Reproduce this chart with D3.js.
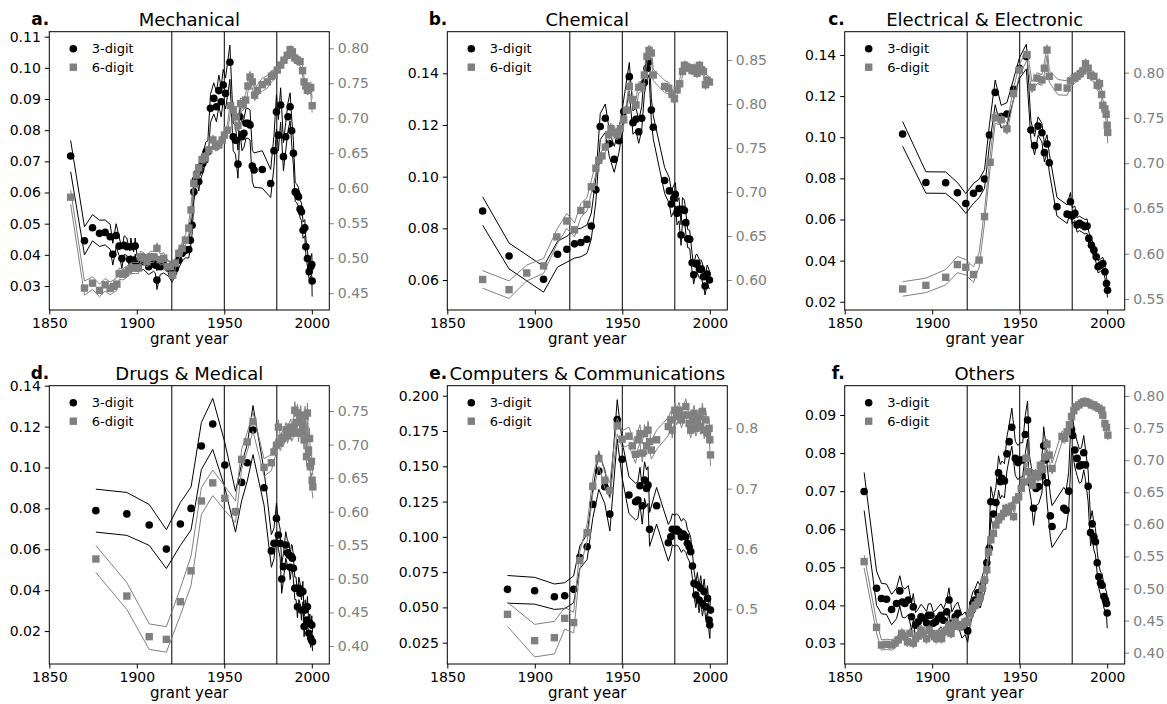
<!DOCTYPE html>
<html>
<head>
<meta charset="utf-8">
<script src="https://cdnjs.cloudflare.com/ajax/libs/d3/7.8.5/d3.min.js"></script>
<style>
  html, body { margin: 0; padding: 0; background: #fff; }
  svg { display: block; font-family: "DejaVu Sans", sans-serif; }
</style>
</head>
<body>
<svg id="fig" width="1167" height="704"></svg>
<script>
// ---- shared labels and ticks ----
const panelLetters = ["a.", "b.", "c.", "d.", "e.", "f."];
const panelTitles = ["Mechanical", "Chemical", "Electrical & Electronic",
                     "Drugs & Medical", "Computers & Communications", "Others"];
const seriesNames = ["3-digit", "6-digit"];
const yearTicks = [1850, 1900, 1950, 2000];
const eraYears = [1920, 1950, 1980];
const xLabel = "grant year";

// ---- per-panel tick values ----
const leftTicks = [
  [0.03, 0.04, 0.05, 0.06, 0.07, 0.08, 0.09, 0.10, 0.11],
  [0.06, 0.08, 0.10, 0.12, 0.14],
  [0.02, 0.04, 0.06, 0.08, 0.10, 0.12, 0.14],
  [0.02, 0.04, 0.06, 0.08, 0.10, 0.12, 0.14],
  [0.025, 0.050, 0.075, 0.100, 0.125, 0.150, 0.175, 0.200],
  [0.03, 0.04, 0.05, 0.06, 0.07, 0.08, 0.09]
];
const rightTicks = [
  [0.45, 0.50, 0.55, 0.60, 0.65, 0.70, 0.75, 0.80],
  [0.60, 0.65, 0.70, 0.75, 0.80, 0.85],
  [0.55, 0.60, 0.65, 0.70, 0.75, 0.80],
  [0.40, 0.45, 0.50, 0.55, 0.60, 0.65, 0.70, 0.75],
  [0.5, 0.6, 0.7, 0.8],
  [0.40, 0.45, 0.50, 0.55, 0.60, 0.65, 0.70, 0.75, 0.80]
];
const leftDecimals = [2, 2, 2, 2, 3, 2];
const rightDecimals = [2, 2, 2, 2, 1, 2];

// ---- series: [grant year, value, half-width of band] ----
const mech3 = [[1862.2,0.0717,0.0050],[1870.1,0.0445,0.0045],[1874.7,0.0487,0.0042],[1878.7,0.0469,0.0042],[1881.9,0.0472,0.0040],[1884.8,0.0458,0.0040],[1886.3,0.0402,0.0035],[1888.2,0.0462,0.0038],[1889.9,0.0428,0.0030],[1891.5,0.0388,0.0030],[1892.8,0.0431,0.0030],[1894.3,0.0426,0.0028],[1895.9,0.0385,0.0028],[1896.6,0.0426,0.0028],[1898.2,0.0383,0.0026],[1899.1,0.0428,0.0026],[1900.1,0.0372,0.0025],[1903.9,0.0378,0.0025],[1906.8,0.0362,0.0025],[1909.6,0.0372,0.0025],[1910.6,0.0367,0.0025],[1911.5,0.0319,0.0030],[1913.4,0.0362,0.0025],[1915.4,0.0367,0.0025],[1918.2,0.0356,0.0025],[1920.1,0.0340,0.0028],[1922.0,0.0356,0.0025],[1924.0,0.0383,0.0025],[1925.9,0.0405,0.0025],[1927.8,0.0415,0.0025],[1929.7,0.0417,0.0027],[1930.6,0.0447,0.0027],[1931.6,0.0495,0.0028],[1932.6,0.0602,0.0030],[1933.5,0.0640,0.0030],[1934.5,0.0661,0.0030],[1935.4,0.0635,0.0030],[1936.4,0.0672,0.0030],[1937.7,0.0693,0.0030],[1938.7,0.0715,0.0032],[1939.6,0.0731,0.0032],[1940.6,0.0731,0.0035],[1942.1,0.0870,0.0045],[1944.0,0.0902,0.0050],[1945.5,0.0875,0.0048],[1946.9,0.0927,0.0050],[1948.2,0.0891,0.0048],[1949.4,0.0945,0.0050],[1950.7,0.0918,0.0050],[1953.2,0.1018,0.0055],[1955.1,0.0779,0.0045],[1956.4,0.0768,0.0045],[1957.8,0.0691,0.0045],[1958.9,0.0843,0.0045],[1960.1,0.0779,0.0045],[1961.2,0.0790,0.0045],[1962.4,0.0822,0.0048],[1963.5,0.0822,0.0048],[1964.7,0.0817,0.0048],[1966.0,0.0685,0.0050],[1967.0,0.0672,0.0055],[1971.7,0.0674,0.0060],[1976.5,0.0629,0.0045],[1978.4,0.0734,0.0050],[1979.8,0.0859,0.0055],[1980.9,0.0784,0.0050],[1982.2,0.0881,0.0055],[1983.8,0.0715,0.0045],[1985.1,0.0779,0.0045],[1986.4,0.0843,0.0045],[1987.6,0.0875,0.0045],[1988.5,0.0798,0.0042],[1989.5,0.0726,0.0040],[1990.5,0.0602,0.0030],[1991.4,0.0597,0.0030],[1992.4,0.0586,0.0030],[1993.3,0.0547,0.0028],[1994.1,0.0538,0.0028],[1995.0,0.0479,0.0026],[1996.0,0.0487,0.0026],[1996.6,0.0426,0.0026],[1997.5,0.0388,0.0025],[1998.5,0.0346,0.0025],[1999.4,0.0362,0.0030],[2000.0,0.0369,0.0035],[2000.2,0.0316,0.0050]];
const mech6 = [[1862.2,0.5872,0.010],[1870.1,0.4573,0.010],[1874.7,0.4644,0.009],[1878.7,0.4540,0.009],[1881.9,0.4620,0.009],[1884.8,0.4570,0.009],[1886.7,0.4597,0.009],[1888.6,0.4630,0.009],[1889.9,0.4780,0.008],[1892.0,0.4770,0.008],[1893.4,0.4790,0.008],[1895.3,0.4830,0.008],[1897.2,0.4860,0.008],[1899.1,0.4860,0.008],[1901.0,0.4860,0.008],[1902.0,0.5020,0.008],[1903.9,0.5000,0.008],[1905.8,0.4950,0.008],[1907.7,0.5020,0.008],[1909.6,0.5020,0.008],[1911.5,0.5140,0.008],[1913.4,0.4980,0.008],[1915.4,0.5000,0.008],[1917.3,0.4880,0.008],[1919.2,0.4880,0.008],[1920.5,0.4760,0.008],[1922.0,0.4930,0.008],[1924.0,0.5070,0.008],[1925.9,0.5140,0.008],[1927.8,0.5260,0.008],[1929.7,0.5430,0.008],[1931.0,0.5690,0.008],[1932.6,0.6070,0.008],[1934.1,0.6190,0.007],[1935.4,0.6290,0.007],[1937.3,0.6410,0.007],[1939.2,0.6450,0.007],[1941.2,0.6550,0.007],[1943.5,0.6690,0.007],[1945.0,0.6600,0.007],[1946.9,0.6620,0.007],[1948.8,0.6690,0.007],[1950.1,0.6760,0.007],[1951.7,0.6830,0.007],[1953.6,0.7180,0.008],[1955.1,0.7120,0.008],[1956.4,0.7020,0.008],[1957.8,0.6900,0.008],[1959.3,0.7210,0.008],[1960.8,0.7190,0.008],[1962.2,0.7260,0.008],[1963.5,0.7460,0.008],[1964.7,0.7590,0.008],[1966.0,0.7520,0.008],[1967.3,0.7330,0.008],[1968.9,0.7400,0.008],[1971.7,0.7480,0.009],[1974.6,0.7520,0.009],[1976.9,0.7600,0.008],[1978.4,0.7620,0.007],[1980.3,0.7690,0.006],[1982.2,0.7760,0.006],[1984.1,0.7830,0.006],[1986.0,0.7900,0.006],[1987.6,0.7980,0.006],[1988.9,0.7950,0.006],[1990.3,0.7860,0.006],[1991.8,0.7830,0.006],[1993.3,0.7810,0.006],[1994.7,0.7680,0.006],[1995.6,0.7520,0.006],[1996.6,0.7460,0.006],[1997.5,0.7400,0.007],[1998.5,0.7430,0.007],[1999.4,0.7440,0.008],[2000.2,0.7180,0.010]];

const chem3 = [[1870.2,0.0867,0.0055],[1885.3,0.0693,0.0050],[1905.0,0.0603,0.0050],[1913.0,0.0700,0.0050],[1918.3,0.0719,0.0050],[1922.7,0.0740,0.0055],[1926.3,0.0745,0.0055],[1929.8,0.0758,0.0055],[1932.3,0.0809,0.0050],[1934.9,0.0949,0.0045],[1937.4,0.1194,0.0050],[1940.3,0.1226,0.0055],[1942.6,0.1127,0.0050],[1945.4,0.1067,0.0050],[1948.1,0.1139,0.0045],[1950.8,0.1252,0.0045],[1954.0,0.1387,0.0055],[1956.1,0.1209,0.0045],[1957.8,0.1222,0.0045],[1959.4,0.1174,0.0045],[1961.1,0.1226,0.0045],[1962.6,0.1364,0.0045],[1964.1,0.1419,0.0045],[1965.3,0.1445,0.0050],[1966.6,0.1258,0.0045],[1967.7,0.1191,0.0045],[1974.2,0.0985,0.0050],[1976.9,0.0945,0.0050],[1978.0,0.0894,0.0050],[1979.4,0.0916,0.0050],[1980.3,0.0932,0.0045],[1981.3,0.0858,0.0045],[1982.4,0.0874,0.0045],[1983.6,0.0774,0.0040],[1984.4,0.0874,0.0045],[1985.5,0.0869,0.0040],[1986.3,0.0822,0.0040],[1987.4,0.0760,0.0035],[1988.5,0.0758,0.0035],[1989.9,0.0667,0.0035],[1990.8,0.0620,0.0035],[1992.0,0.0662,0.0035],[1992.7,0.0665,0.0035],[1994.1,0.0642,0.0035],[1995.2,0.0642,0.0035],[1996.4,0.0613,0.0035],[1997.3,0.0577,0.0035],[1998.5,0.0623,0.0035],[1999.8,0.0600,0.0035]];
const chem6 = [[1870.2,0.6006,0.0100],[1885.3,0.5890,0.0100],[1895.4,0.6080,0.0090],[1905.0,0.6160,0.0085],[1912.6,0.6490,0.0085],[1918.3,0.6670,0.0085],[1922.7,0.6570,0.0080],[1926.3,0.6790,0.0080],[1929.8,0.6860,0.0075],[1932.3,0.7060,0.0070],[1934.9,0.7270,0.0065],[1936.5,0.7360,0.0060],[1938.4,0.7410,0.0060],[1940.3,0.7510,0.0060],[1942.2,0.7650,0.0060],[1943.5,0.7720,0.0060],[1945.4,0.7680,0.0060],[1947.0,0.7650,0.0060],[1948.9,0.7720,0.0060],[1950.8,0.7820,0.0060],[1952.3,0.7930,0.0060],[1954.0,0.8200,0.0060],[1955.9,0.8050,0.0060],[1957.8,0.7990,0.0060],[1959.4,0.8190,0.0060],[1961.1,0.8200,0.0060],[1962.6,0.8330,0.0060],[1964.1,0.8540,0.0060],[1965.3,0.8610,0.0060],[1966.6,0.8580,0.0060],[1967.7,0.8330,0.0065],[1974.2,0.8200,0.0070],[1976.5,0.8180,0.0065],[1978.4,0.8110,0.0060],[1979.8,0.8060,0.0060],[1981.3,0.8160,0.0055],[1982.8,0.8230,0.0050],[1984.4,0.8370,0.0050],[1985.5,0.8440,0.0050],[1987.0,0.8420,0.0050],[1988.5,0.8410,0.0050],[1989.9,0.8380,0.0050],[1991.2,0.8410,0.0050],[1992.7,0.8350,0.0050],[1994.1,0.8440,0.0050],[1995.2,0.8390,0.0050],[1996.4,0.8370,0.0050],[1997.5,0.8220,0.0055],[1998.5,0.8270,0.0055],[1999.8,0.8250,0.0060]];

const elec3 = [[1883.1,0.1016,0.0060],[1896.4,0.0780,0.0052],[1907.7,0.0779,0.0052],[1914.4,0.0730,0.0050],[1919.2,0.0678,0.0048],[1923.6,0.0727,0.0048],[1926.8,0.0751,0.0045],[1929.9,0.0797,0.0045],[1932.7,0.1011,0.0050],[1936.0,0.1218,0.0060],[1939.4,0.1100,0.0055],[1942.7,0.1113,0.0055],[1946.5,0.1233,0.0050],[1949.8,0.1335,0.0050],[1953.8,0.1392,0.0060],[1956.4,0.1035,0.0045],[1958.5,0.0959,0.0045],[1960.5,0.1054,0.0045],[1962.7,0.1022,0.0045],[1964.1,0.0925,0.0045],[1965.6,0.0967,0.0045],[1966.9,0.0876,0.0045],[1971.3,0.0662,0.0045],[1977.1,0.0626,0.0045],[1979.0,0.0686,0.0045],[1980.0,0.0617,0.0040],[1981.5,0.0630,0.0035],[1982.8,0.0573,0.0035],[1984.1,0.0581,0.0035],[1985.7,0.0573,0.0035],[1987.2,0.0565,0.0035],[1988.5,0.0568,0.0035],[1989.5,0.0508,0.0030],[1991.0,0.0475,0.0030],[1992.4,0.0451,0.0030],[1993.7,0.0419,0.0030],[1994.8,0.0370,0.0030],[1996.2,0.0378,0.0030],[1997.5,0.0386,0.0030],[1998.7,0.0346,0.0030],[1999.6,0.0289,0.0030],[2000.2,0.0256,0.0035]];
const elec6 = [[1883.1,0.5610,0.0080],[1896.4,0.5650,0.0080],[1907.7,0.5740,0.0085],[1914.4,0.5880,0.0090],[1919.2,0.5850,0.0085],[1923.6,0.5770,0.0085],[1926.8,0.5930,0.0080],[1929.9,0.6410,0.0070],[1933.1,0.7010,0.0065],[1936.0,0.7500,0.0060],[1939.4,0.7480,0.0060],[1942.7,0.7380,0.0060],[1946.5,0.7770,0.0060],[1949.8,0.8030,0.0060],[1954.2,0.8200,0.0060],[1957.0,0.7840,0.0060],[1959.9,0.7940,0.0060],[1962.7,0.7920,0.0060],[1964.1,0.8050,0.0060],[1965.6,0.8250,0.0060],[1966.9,0.7960,0.0065],[1971.9,0.7840,0.0085],[1977.1,0.7830,0.0080],[1979.0,0.7910,0.0060],[1981.5,0.7940,0.0055],[1982.8,0.7960,0.0055],[1984.7,0.7990,0.0055],[1986.1,0.8020,0.0055],[1987.6,0.8100,0.0055],[1989.1,0.8050,0.0055],[1990.5,0.7970,0.0055],[1992.4,0.7960,0.0055],[1994.3,0.7860,0.0055],[1995.6,0.7880,0.0055],[1996.8,0.7760,0.0060],[1997.5,0.7640,0.0060],[1998.7,0.7600,0.0065],[1999.4,0.7540,0.0070],[2000.0,0.7420,0.0080],[2000.3,0.7340,0.0120]];

const drug3 = [[1876.6,0.0789,0.0105],[1894.3,0.0773,0.0105],[1907.1,0.0719,0.0100],[1916.9,0.0601,0.0095],[1924.9,0.0724,0.0105],[1931.0,0.0800,0.0105],[1936.9,0.1105,0.0115],[1943.4,0.1213,0.0125],[1950.3,0.1012,0.0110],[1956.4,0.0784,0.0100],[1959.9,0.0927,0.0090],[1963.1,0.1023,0.0090],[1966.4,0.1183,0.0120],[1972.7,0.0901,0.0085],[1976.9,0.0592,0.0080],[1978.4,0.0629,0.0075],[1979.8,0.0751,0.0075],[1980.9,0.0670,0.0070],[1981.9,0.0629,0.0070],[1982.8,0.0455,0.0070],[1983.8,0.0515,0.0065],[1985.1,0.0621,0.0065],[1986.1,0.0583,0.0060],[1987.0,0.0572,0.0060],[1987.6,0.0512,0.0060],[1988.4,0.0564,0.0060],[1988.9,0.0556,0.0060],[1989.5,0.0507,0.0055],[1990.3,0.0409,0.0055],[1991.0,0.0409,0.0055],[1991.8,0.0319,0.0055],[1992.6,0.0409,0.0055],[1993.3,0.0385,0.0050],[1994.1,0.0303,0.0050],[1994.9,0.0393,0.0050],[1995.6,0.0222,0.0050],[1996.2,0.0303,0.0050],[1997.0,0.0254,0.0050],[1997.5,0.0319,0.0050],[1998.3,0.0189,0.0045],[1998.9,0.0238,0.0045],[1999.4,0.0165,0.0045],[2000.0,0.0230,0.0045],[2000.4,0.0148,0.0045]];
const drug6 = [[1876.6,0.5296,0.0200],[1894.3,0.4744,0.0200],[1907.1,0.4139,0.0190],[1916.9,0.4099,0.0190],[1924.9,0.4660,0.0200],[1931.0,0.5120,0.0220],[1936.9,0.6160,0.0200],[1943.4,0.6430,0.0190],[1950.3,0.6200,0.0180],[1956.4,0.6000,0.0160],[1959.9,0.6780,0.0150],[1963.1,0.7040,0.0140],[1966.4,0.7340,0.0140],[1972.7,0.6660,0.0130],[1976.9,0.6730,0.0120],[1978.4,0.6890,0.0120],[1979.8,0.6990,0.0110],[1980.9,0.7260,0.0110],[1981.9,0.7020,0.0110],[1983.2,0.7090,0.0110],[1984.1,0.7110,0.0110],[1985.3,0.7220,0.0110],[1986.1,0.7130,0.0110],[1987.0,0.7210,0.0110],[1988.0,0.7260,0.0120],[1988.5,0.7170,0.0120],[1989.5,0.7230,0.0120],[1990.3,0.7510,0.0130],[1991.0,0.7330,0.0130],[1991.8,0.7470,0.0130],[1992.4,0.7170,0.0130],[1993.1,0.7370,0.0130],[1993.7,0.7440,0.0140],[1994.3,0.7190,0.0140],[1994.9,0.7290,0.0140],[1995.6,0.7070,0.0140],[1996.2,0.7420,0.0150],[1997.0,0.6820,0.0150],[1997.5,0.7470,0.0150],[1998.1,0.6920,0.0150],[1998.7,0.7090,0.0160],[1999.2,0.6670,0.0160],[1999.8,0.6750,0.0170],[2000.2,0.6470,0.0170],[2000.6,0.6370,0.0170]];

const comp3 = [[1884.4,0.0628,0.0098],[1899.9,0.0618,0.0095],[1911.2,0.0576,0.0090],[1917.1,0.0583,0.0092],[1922.2,0.0628,0.0095],[1925.7,0.0854,0.0080],[1929.9,0.0930,0.0090],[1933.1,0.1230,0.0100],[1936.6,0.1466,0.0130],[1940.0,0.1355,0.0120],[1942.9,0.1161,0.0120],[1947.1,0.1832,0.0140],[1949.9,0.1549,0.0130],[1953.8,0.1296,0.0130],[1957.6,0.1249,0.0130],[1958.9,0.1260,0.0130],[1960.1,0.1362,0.0130],[1961.4,0.1220,0.0130],[1962.7,0.1402,0.0130],[1963.9,0.1343,0.0130],[1964.7,0.1367,0.0130],[1965.6,0.1053,0.0120],[1969.6,0.1220,0.0130],[1976.3,0.0958,0.0130],[1977.7,0.1000,0.0120],[1978.6,0.1053,0.0110],[1980.0,0.1043,0.0110],[1981.1,0.1053,0.0110],[1982.4,0.1036,0.0110],[1983.8,0.1000,0.0110],[1984.9,0.1020,0.0110],[1986.3,0.1000,0.0110],[1987.2,0.0954,0.0100],[1988.2,0.0930,0.0100],[1989.1,0.0895,0.0100],[1990.1,0.0793,0.0090],[1991.0,0.0670,0.0090],[1992.0,0.0588,0.0090],[1992.9,0.0658,0.0090],[1993.9,0.0552,0.0090],[1994.8,0.0635,0.0090],[1995.8,0.0528,0.0090],[1996.8,0.0611,0.0090],[1997.7,0.0505,0.0090],[1998.7,0.0564,0.0090],[1999.6,0.0410,0.0090],[2000.0,0.0375,0.0095],[2000.4,0.0481,0.0095]];
const comp6 = [[1884.4,0.4917,0.0200],[1899.9,0.4480,0.0270],[1911.2,0.4530,0.0270],[1917.1,0.4850,0.0180],[1922.2,0.4780,0.0170],[1925.7,0.5810,0.0150],[1929.9,0.6270,0.0140],[1933.1,0.7040,0.0130],[1936.6,0.7500,0.0130],[1940.0,0.7140,0.0130],[1942.9,0.6970,0.0130],[1947.1,0.8040,0.0130],[1949.9,0.7820,0.0140],[1953.8,0.7870,0.0150],[1955.7,0.7710,0.0150],[1957.6,0.7570,0.0150],[1958.9,0.7810,0.0150],[1960.1,0.7910,0.0150],[1961.4,0.7590,0.0150],[1962.7,0.7910,0.0150],[1963.9,0.7710,0.0150],[1964.7,0.7970,0.0150],[1965.6,0.7780,0.0150],[1966.6,0.7640,0.0150],[1969.6,0.7810,0.0160],[1976.3,0.8030,0.0150],[1977.7,0.8140,0.0140],[1978.6,0.7970,0.0130],[1980.0,0.8300,0.0130],[1981.1,0.8190,0.0130],[1982.4,0.8300,0.0130],[1983.8,0.8140,0.0130],[1984.9,0.8220,0.0130],[1986.3,0.8360,0.0130],[1987.2,0.8220,0.0130],[1988.2,0.8080,0.0130],[1989.1,0.7970,0.0130],[1990.1,0.8140,0.0130],[1991.0,0.8250,0.0130],[1992.0,0.8000,0.0130],[1992.9,0.8080,0.0130],[1993.9,0.8190,0.0130],[1994.8,0.8030,0.0130],[1995.8,0.8280,0.0140],[1996.8,0.7970,0.0140],[1997.7,0.8140,0.0140],[1998.7,0.7920,0.0150],[1999.6,0.8000,0.0150],[2000.0,0.7810,0.0150],[2000.4,0.7560,0.0180]];

const other3 = [[1861.1,0.0699,0.0050],[1868.2,0.0445,0.0045],[1871.0,0.0418,0.0040],[1873.9,0.0416,0.0040],[1876.8,0.0389,0.0040],[1879.6,0.0405,0.0040],[1881.5,0.0438,0.0040],[1882.9,0.0409,0.0040],[1884.4,0.0405,0.0038],[1886.3,0.0414,0.0038],[1888.2,0.0370,0.0035],[1889.2,0.0396,0.0035],[1890.5,0.0348,0.0033],[1892.0,0.0357,0.0033],[1893.6,0.0370,0.0033],[1894.9,0.0366,0.0030],[1896.8,0.0354,0.0030],[1897.8,0.0374,0.0030],[1899.3,0.0374,0.0030],[1900.6,0.0353,0.0030],[1902.0,0.0357,0.0030],[1903.5,0.0366,0.0030],[1905.0,0.0374,0.0030],[1906.4,0.0361,0.0030],[1908.3,0.0383,0.0030],[1909.6,0.0414,0.0032],[1911.2,0.0353,0.0030],[1913.1,0.0370,0.0030],[1914.6,0.0379,0.0030],[1917.0,0.0344,0.0030],[1918.8,0.0353,0.0030],[1920.3,0.0333,0.0030],[1921.7,0.0379,0.0030],[1923.2,0.0405,0.0030],[1924.5,0.0414,0.0030],[1926.1,0.0433,0.0030],[1927.4,0.0423,0.0030],[1928.7,0.0445,0.0032],[1929.9,0.0466,0.0032],[1931.2,0.0512,0.0035],[1932.6,0.0550,0.0035],[1933.5,0.0672,0.0040],[1935.0,0.0640,0.0040],[1936.4,0.0670,0.0040],[1937.9,0.0748,0.0045],[1938.9,0.0725,0.0045],[1939.8,0.0734,0.0045],[1941.3,0.0727,0.0045],[1942.7,0.0798,0.0045],[1944.0,0.0830,0.0045],[1945.5,0.0868,0.0050],[1947.5,0.0786,0.0045],[1949.0,0.0775,0.0045],[1950.3,0.0782,0.0045],[1951.7,0.0782,0.0045],[1953.2,0.0849,0.0050],[1954.5,0.0887,0.0050],[1955.5,0.0751,0.0045],[1956.6,0.0720,0.0045],[1957.9,0.0655,0.0045],[1959.3,0.0707,0.0045],[1960.8,0.0712,0.0045],[1962.7,0.0740,0.0045],[1963.7,0.0819,0.0050],[1964.7,0.0782,0.0050],[1965.6,0.0722,0.0050],[1967.5,0.0635,0.0055],[1968.5,0.0607,0.0055],[1975.2,0.0655,0.0055],[1976.5,0.0650,0.0050],[1978.0,0.0700,0.0050],[1979.6,0.0862,0.0050],[1980.3,0.0846,0.0045],[1981.5,0.0808,0.0045],[1982.8,0.0786,0.0045],[1984.1,0.0766,0.0045],[1985.3,0.0769,0.0045],[1986.6,0.0801,0.0045],[1987.6,0.0769,0.0040],[1989.1,0.0713,0.0040],[1990.5,0.0591,0.0035],[1991.4,0.0614,0.0035],[1992.4,0.0580,0.0035],[1993.3,0.0567,0.0035],[1994.3,0.0512,0.0030],[1995.2,0.0475,0.0030],[1996.2,0.0458,0.0030],[1997.1,0.0453,0.0030],[1998.1,0.0423,0.0030],[1999.0,0.0414,0.0030],[1999.6,0.0405,0.0030],[2000.0,0.0380,0.0040]];
const other6 = [[1861.1,0.5420,0.0100],[1868.2,0.4395,0.0090],[1871.0,0.4120,0.0080],[1873.9,0.4130,0.0080],[1876.8,0.4120,0.0080],[1878.7,0.4150,0.0080],[1880.6,0.4200,0.0080],[1882.5,0.4300,0.0080],[1884.4,0.4250,0.0080],[1885.9,0.4170,0.0080],[1887.3,0.4300,0.0080],[1889.2,0.4150,0.0080],[1890.5,0.4220,0.0080],[1892.0,0.4260,0.0080],[1893.6,0.4350,0.0080],[1894.9,0.4300,0.0080],[1896.8,0.4220,0.0080],[1898.2,0.4350,0.0080],[1899.7,0.4300,0.0080],[1901.2,0.4250,0.0075],[1902.6,0.4220,0.0075],[1903.9,0.4300,0.0075],[1905.4,0.4220,0.0075],[1906.9,0.4330,0.0075],[1908.3,0.4350,0.0075],[1909.6,0.4430,0.0075],[1910.8,0.4300,0.0075],[1912.1,0.4410,0.0075],[1913.1,0.4480,0.0075],[1914.6,0.4430,0.0075],[1915.9,0.4410,0.0075],[1917.3,0.4430,0.0075],[1918.8,0.4480,0.0075],[1920.3,0.4480,0.0075],[1921.7,0.4610,0.0075],[1923.0,0.4690,0.0075],[1924.5,0.4740,0.0075],[1926.1,0.4790,0.0075],[1927.4,0.4870,0.0075],[1928.7,0.5000,0.0075],[1929.9,0.5130,0.0075],[1931.2,0.5290,0.0075],[1932.2,0.5570,0.0075],[1933.5,0.5760,0.0075],[1935.0,0.5860,0.0070],[1936.4,0.5990,0.0070],[1937.9,0.6070,0.0070],[1939.4,0.6120,0.0070],[1940.8,0.6170,0.0070],[1942.1,0.6250,0.0070],[1943.6,0.6200,0.0070],[1945.2,0.6280,0.0070],[1946.5,0.6120,0.0070],[1947.8,0.6380,0.0070],[1949.4,0.6430,0.0070],[1950.9,0.6560,0.0070],[1952.2,0.6660,0.0070],[1953.6,0.7030,0.0075],[1954.8,0.6820,0.0075],[1956.1,0.6690,0.0075],[1957.4,0.6610,0.0075],[1959.0,0.6790,0.0075],[1960.5,0.6740,0.0075],[1961.8,0.6920,0.0075],[1963.1,0.6860,0.0075],[1964.3,0.7050,0.0075],[1965.6,0.7250,0.0080],[1966.9,0.7080,0.0080],[1968.5,0.6870,0.0085],[1974.2,0.7370,0.0085],[1975.7,0.7340,0.0080],[1977.1,0.7440,0.0075],[1978.4,0.7550,0.0070],[1979.6,0.7680,0.0065],[1980.9,0.7770,0.0060],[1982.2,0.7830,0.0060],[1983.8,0.7860,0.0060],[1985.3,0.7890,0.0060],[1986.6,0.7910,0.0060],[1988.0,0.7910,0.0060],[1989.5,0.7890,0.0060],[1991.0,0.7860,0.0060],[1992.4,0.7860,0.0060],[1993.7,0.7830,0.0060],[1995.2,0.7810,0.0060],[1996.8,0.7780,0.0060],[1997.5,0.7700,0.0065],[1998.7,0.7570,0.0065],[1999.6,0.7510,0.0070],[2000.4,0.7390,0.0080]];

const series3 = [mech3, chem3, elec3, drug3, comp3, other3];
const series6 = [mech6, chem6, elec6, drug6, comp6, other6];

// ---- layout ----
const colLeft = [49.3, 447.3, 844.7];
const rowTop = [31.7, 385.7];
const W = 280, H = 278.3;
const leftDomain = [[0.0223, 0.1116], [0.0484, 0.1561], [0.0160, 0.1513],
                    [0.0039, 0.1400], [0.0099, 0.2071], [0.0246, 0.0977]];
const rightDomain = [[0.4260, 0.8237], [0.5659, 0.8822], [0.5378, 0.8453],
                     [0.3732, 0.7877], [0.4093, 0.8707], [0.3824, 0.8160]];

const GRAY = "#808080";
const svg = d3.select("#fig");

panelTitles.forEach((title, i) => {
  const g = svg.append("g")
    .attr("transform", `translate(${colLeft[i % 3]},${rowTop[Math.floor(i / 3)]})`);

  const x = d3.scaleLinear().domain([1850, 2010]).range([0, W]);
  const yL = d3.scaleLinear().domain(leftDomain[i]).range([H, 0]);
  const yR = d3.scaleLinear().domain(rightDomain[i]).range([H, 0]);

  // era separators
  g.selectAll("line.era").data(eraYears).join("line")
    .attr("class", "era")
    .attr("x1", d => x(d)).attr("x2", d => x(d))
    .attr("y1", 0).attr("y2", H)
    .attr("stroke", "#000").attr("stroke-width", 1);

  const bandLine = (y, sign) => d3.line()
    .x(d => x(d[0]))
    .y(d => y(d[1] + sign * d[2]));

  // 3-digit: band and points on the left axis
  const s3 = series3[i];
  [1, -1].forEach(sign => {
    g.append("path").datum(s3)
      .attr("d", bandLine(yL, sign))
      .attr("fill", "none").attr("stroke", "#000").attr("stroke-width", 1);
  });
  g.append("g").selectAll("circle").data(s3).join("circle")
    .attr("cx", d => x(d[0])).attr("cy", d => yL(d[1]))
    .attr("r", 3.8).attr("fill", "#000");

  // 6-digit: band and points on the right axis
  const s6 = series6[i];
  [1, -1].forEach(sign => {
    g.append("path").datum(s6)
      .attr("d", bandLine(yR, sign))
      .attr("fill", "none").attr("stroke", GRAY).attr("stroke-width", 1);
  });
  const sq = 7.4;
  g.append("g").selectAll("rect").data(s6).join("rect")
    .attr("x", d => x(d[0]) - sq / 2).attr("y", d => yR(d[1]) - sq / 2)
    .attr("width", sq).attr("height", sq).attr("fill", GRAY);

  // axes
  const fmtL = d3.format(`.${leftDecimals[i]}f`);
  const fmtR = d3.format(`.${rightDecimals[i]}f`);
  const axL = g.append("g")
    .call(d3.axisLeft(yL).tickValues(leftTicks[i]).tickFormat(fmtL)
      .tickSize(4.5).tickPadding(4));
  const axR = g.append("g").attr("transform", `translate(${W},0)`)
    .call(d3.axisRight(yR).tickValues(rightTicks[i]).tickFormat(fmtR)
      .tickSize(4.5).tickPadding(4));
  const axB = g.append("g").attr("transform", `translate(0,${H})`)
    .call(d3.axisBottom(x).tickValues(yearTicks).tickFormat(d3.format("d"))
      .tickSize(4.5).tickPadding(4));
  [axL, axR, axB].forEach(a => {
    a.select(".domain").remove();
    a.selectAll("text").attr("font-size", 14).attr("font-family", "DejaVu Sans");
    a.selectAll(".tick line").attr("stroke-width", 1);
  });
  axR.selectAll("text").attr("fill", GRAY);
  axR.selectAll(".tick line").attr("stroke", GRAY);

  // frame
  g.append("rect").attr("width", W).attr("height", H)
    .attr("fill", "none").attr("stroke", "#000").attr("stroke-width", 1);

  // title and panel letter
  g.append("text").attr("x", W / 2).attr("y", -6)
    .attr("text-anchor", "middle").attr("font-size", 18).text(title);
  g.append("text").attr("x", 0).attr("y", -6.5)
    .attr("text-anchor", "end").attr("font-size", 17).attr("font-weight", "bold")
    .text(panelLetters[i]);

  // x label
  g.append("text").attr("x", W / 2).attr("y", H + 34)
    .attr("text-anchor", "middle").attr("font-size", 15).text(xLabel);

  // legend
  const lg = g.append("g").attr("transform", "translate(24,17)");
  lg.append("circle").attr("cx", 0).attr("cy", 0).attr("r", 3.8).attr("fill", "#000");
  lg.append("rect").attr("x", -sq / 2).attr("y", 18.5 - sq / 2)
    .attr("width", sq).attr("height", sq).attr("fill", GRAY);
  lg.selectAll("text").data(seriesNames).join("text")
    .attr("x", 18.5).attr("y", (d, k) => k * 18.5 + 4.5)
    .attr("font-size", 13).text(d => d);
});
</script>
</body>
</html>
